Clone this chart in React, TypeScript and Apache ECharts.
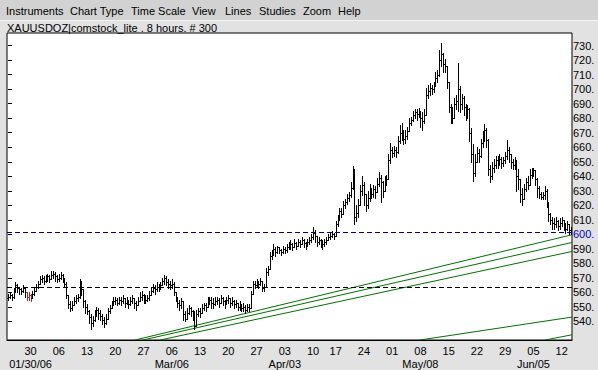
import React, { useEffect, useRef } from 'react';
import * as echarts from 'echarts';

// ---- Data (8-hour bars, XAUUSDOZ) ----
const opens = [
  556, 557, 558, 557, 560, 565, 563, 562, 561, 563,
  560, 557, 558, 556, 559, 561, 564, 566, 569, 570,
  568, 570, 571, 569, 572, 573, 571, 569, 570, 572,
  570, 566, 558, 552, 549, 551, 554, 556, 557, 566,
  562, 554, 550, 547, 543, 539, 541, 545, 548, 546,
  544, 541, 539, 542, 547, 549, 552, 554, 555, 553,
  555, 554, 556, 553, 555, 552, 554, 556, 553, 551,
  554, 557, 558, 556, 555, 556, 558, 561, 563, 562,
  564, 563, 565, 568, 570, 567, 566, 565, 566, 560,
  556, 553, 551, 554, 545, 542, 546, 549, 547, 544,
  537, 545, 547, 546, 549, 551, 550, 554, 555, 553,
  552, 554, 555, 553, 556, 554, 552, 555, 556, 553,
  554, 552, 553, 550, 551, 549, 550, 548, 550, 549,
  559, 566, 565, 567, 566, 568, 563, 564, 574, 576,
  585, 586, 590, 588, 591, 589, 588, 590, 589, 591,
  592, 593, 591, 594, 592, 595, 593, 596, 594, 592,
  595, 596, 598, 601, 599, 595, 596, 594, 593, 595,
  596, 598, 599, 600, 599, 607, 611, 616, 614, 620,
  622, 625, 627, 632, 640, 612, 615, 620, 630, 634,
  628, 620, 625, 630, 628, 631, 629, 635, 639, 636,
  630, 637, 638, 651, 658, 656, 658, 657, 664, 670,
  672, 666, 668, 671, 677, 679, 682, 684, 683, 685,
  680, 678, 682, 696, 699, 701, 700, 702, 708, 710,
  720, 724, 717, 716, 705, 688, 682, 680, 690, 692,
  700, 690, 694, 688, 684, 686, 670, 655, 642, 650,
  656, 654, 663, 668, 672, 665, 645, 640, 646, 648,
  651, 650, 652, 649, 651, 654, 658, 655, 650, 648,
  651, 640, 638, 628, 624, 631, 636, 634, 641, 643,
  644, 638, 632, 628, 626, 627, 630, 622, 614, 610,
  608, 607, 609, 606, 608, 610, 606, 604, 607, 603,
];
const highs = [
  559, 560, 559, 563, 567, 566, 564, 563, 565, 562,
  560, 560, 559, 561, 564, 566, 568, 571, 572, 571,
  572, 573, 572, 575, 575, 574, 572, 573, 574, 573,
  570, 567, 558, 554, 554, 557, 558, 559, 569, 568,
  562, 555, 552, 548, 545, 544, 548, 550, 549, 548,
  545, 543, 545, 549, 551, 554, 557, 557, 556, 557,
  557, 558, 556, 557, 555, 557, 558, 556, 554, 557,
  560, 561, 559, 558, 558, 561, 564, 566, 565, 567,
  566, 567, 570, 572, 571, 569, 568, 569, 567, 560,
  557, 555, 556, 549, 547, 549, 551, 550, 548, 547,
  548, 549, 549, 552, 553, 553, 557, 557, 557, 556,
  557, 557, 556, 558, 557, 555, 557, 558, 556, 557,
  555, 555, 553, 554, 552, 553, 551, 552, 552, 561,
  568, 568, 569, 568, 570, 567, 566, 577, 578, 588,
  589, 593, 591, 592, 591, 590, 592, 591, 593, 595,
  596, 594, 597, 595, 597, 596, 598, 597, 595, 597,
  598, 600, 605, 603, 598, 598, 597, 596, 597, 598,
  600, 601, 602, 601, 609, 613, 618, 618, 623, 624,
  628, 629, 636, 647, 645, 620, 624, 634, 640, 636,
  628, 630, 635, 632, 634, 633, 639, 643, 641, 637,
  640, 641, 655, 663, 660, 661, 660, 668, 675, 677,
  671, 672, 674, 680, 681, 685, 686, 686, 687, 685,
  684, 686, 701, 703, 704, 703, 705, 712, 713, 727,
  732, 725, 721, 715, 700, 690, 688, 694, 696, 718,
  702, 697, 695, 690, 689, 687, 673, 662, 655, 660,
  659, 666, 671, 676, 673, 666, 648, 650, 652, 654,
  654, 655, 653, 653, 657, 665, 660, 654, 652, 653,
  647, 645, 636, 632, 635, 639, 640, 645, 646, 646,
  642, 639, 633, 629, 629, 633, 631, 619, 615, 612,
  611, 612, 610, 611, 612, 610, 608, 609, 607, 605,
];
const lows = [
  555, 556, 555, 556, 560, 560, 559, 559, 560, 557,
  555, 555, 554, 556, 558, 561, 563, 566, 567, 566,
  567, 568, 567, 569, 570, 568, 567, 568, 569, 567,
  564, 556, 549, 547, 548, 551, 553, 554, 556, 558,
  550, 546, 545, 539, 535, 537, 540, 544, 542, 541,
  538, 536, 538, 543, 546, 549, 551, 552, 551, 552,
  551, 553, 550, 552, 549, 551, 553, 549, 548, 551,
  554, 555, 553, 553, 554, 555, 558, 560, 559, 561,
  561, 562, 565, 566, 565, 563, 562, 563, 558, 554,
  550, 548, 549, 541, 540, 542, 545, 544, 541, 535,
  540, 544, 543, 546, 548, 547, 550, 552, 549, 549,
  551, 552, 550, 553, 551, 549, 552, 553, 550, 551,
  549, 550, 548, 548, 547, 547, 546, 547, 547, 549,
  559, 563, 564, 563, 565, 561, 561, 564, 572, 576,
  583, 586, 585, 587, 587, 586, 587, 587, 588, 590,
  590, 589, 591, 590, 592, 591, 593, 591, 590, 592,
  593, 595, 597, 595, 592, 593, 591, 590, 592, 593,
  596, 597, 598, 597, 599, 606, 610, 612, 614, 618,
  621, 623, 626, 631, 607, 609, 612, 622, 627, 620,
  616, 618, 623, 625, 626, 625, 630, 633, 622, 626,
  630, 634, 638, 649, 653, 654, 653, 656, 663, 665,
  662, 663, 666, 672, 675, 678, 680, 679, 681, 674,
  672, 677, 682, 694, 696, 697, 698, 703, 705, 709,
  716, 712, 712, 701, 684, 677, 677, 680, 686, 685,
  684, 686, 682, 679, 680, 664, 650, 637, 640, 651,
  650, 653, 660, 664, 660, 641, 636, 638, 643, 646,
  646, 648, 646, 647, 649, 652, 650, 646, 645, 645,
  630, 631, 622, 620, 624, 630, 631, 634, 639, 640,
  634, 626, 625, 624, 624, 624, 619, 609, 607, 604,
  604, 605, 603, 604, 606, 603, 601, 603, 600, 600,
];
const closes = [
  557, 558, 557, 560, 565, 563, 562, 561, 563, 560,
  557, 558, 556, 559, 561, 564, 566, 569, 570, 568,
  570, 571, 569, 572, 573, 571, 569, 570, 572, 570,
  566, 558, 552, 549, 551, 554, 556, 557, 566, 562,
  554, 550, 547, 543, 539, 541, 545, 548, 546, 544,
  541, 539, 542, 547, 549, 552, 554, 555, 553, 555,
  554, 556, 553, 555, 552, 554, 556, 553, 551, 554,
  557, 558, 556, 555, 556, 558, 561, 563, 562, 564,
  563, 565, 568, 570, 567, 566, 565, 566, 560, 556,
  553, 551, 554, 545, 542, 546, 549, 547, 544, 537,
  545, 547, 546, 549, 551, 550, 554, 555, 553, 552,
  554, 555, 553, 556, 554, 552, 555, 556, 553, 554,
  552, 553, 550, 551, 549, 550, 548, 550, 549, 559,
  566, 565, 567, 566, 568, 563, 564, 574, 576, 585,
  586, 590, 588, 591, 589, 588, 590, 589, 591, 592,
  593, 591, 594, 592, 595, 593, 596, 594, 592, 595,
  596, 598, 601, 599, 595, 596, 594, 593, 595, 596,
  598, 599, 600, 599, 607, 611, 616, 614, 620, 622,
  625, 627, 632, 640, 612, 615, 620, 630, 634, 628,
  620, 625, 630, 628, 631, 629, 635, 639, 636, 630,
  637, 638, 651, 658, 656, 658, 657, 664, 670, 672,
  666, 668, 671, 677, 679, 682, 684, 683, 685, 680,
  678, 682, 696, 699, 701, 700, 702, 708, 710, 720,
  724, 717, 716, 705, 688, 682, 680, 690, 692, 700,
  690, 694, 688, 684, 686, 670, 655, 642, 650, 656,
  654, 663, 668, 672, 665, 645, 640, 646, 648, 651,
  650, 652, 649, 651, 654, 658, 655, 650, 648, 651,
  640, 638, 628, 624, 631, 636, 634, 641, 643, 644,
  638, 632, 628, 626, 627, 630, 622, 614, 610, 608,
  607, 609, 606, 608, 610, 606, 604, 607, 603, 601.5,
];
const redBars = [10, 11, 12];

// week-start bars and their day labels
const weekStartBars = [12, 27, 42, 57, 72, 87, 102, 117, 132, 147, 162, 174, 189, 204, 219, 234, 249, 264, 279, 294];
const weekLabels = ['30', '06', '13', '20', '27', '06', '13', '20', '27', '03', '10', '17', '24', '01', '08', '15', '22', '29', '05', '12'];
const monthBars = [12, 87, 147, 219, 279];
const monthLabels = ['01/30/06', 'Mar/06', 'Apr/03', 'May/08', 'Jun/05'];

const priceTicks = [540, 550, 560, 570, 580, 590, 600, 610, 620, 630, 640, 650, 660, 670, 680, 690, 700, 710, 720, 730];
const priceMin = 527.2;
const priceMax = 738.7;
const lastPrice = 601.6;
const supportLevel = 563.3;

// trend lines: [barIndex, price] endpoints
const trendLines = [
  [[67.5, 527.2], [299.5, 599.7]],
  [[71.7, 527.2], [299.5, 594.4]],
  [[80.8, 527.2], [299.5, 588.2]],
  [[218.8, 527.2], [299.5, 543.0]],
  [[285.2, 527.2], [299.5, 530.8]],
];

const menuItems = ['Instruments', 'Chart Type', 'Time Scale', 'View', 'Lines', 'Studies', 'Zoom', 'Help'];
const title = 'XAUUSDOZ|comstock_lite . 8 hours. # 300';

const FONT = 'Liberation Sans, Arial, sans-serif';

export default function App() {
  const ref = useRef<HTMLDivElement>(null);

  useEffect(() => {
    if (!ref.current) return;
    const chart = echarts.init(ref.current, null, { renderer: 'svg' });

    const labelMap: Record<number, string> = {};
    weekStartBars.forEach((b, i) => {
      const mi = monthBars.indexOf(b);
      labelMap[b] = mi >= 0 ? `${weekLabels[i]}\n${monthLabels[mi]}` : weekLabels[i];
    });

    const ohlcData = closes.map((c, i) => [i, opens[i], highs[i], lows[i], c]);

    const menuX = [6, 70, 131, 192, 225, 259, 303, 338];

    const option: any = {
      animation: false,
      backgroundColor: '#e2e2e2',
      grid: {
        left: 7, right: 26, top: 33, bottom: 28,
        show: true, backgroundColor: '#ffffff', borderColor: '#000000', borderWidth: 1,
      },
      graphic: [
        { type: 'rect', shape: { x: 0, y: 0, width: 598, height: 20 }, style: { fill: '#d2d2d2' }, z: -1 },
        { type: 'line', shape: { x1: 0, y1: 20.5, x2: 598, y2: 20.5 }, style: { stroke: '#f2f2f2', lineWidth: 1 }, z: -1 },
        ...menuItems.map((m, i) => ({
          type: 'text', x: menuX[i], y: 11,
          style: { text: m, fill: '#000', font: `11px ${FONT}`, textVerticalAlign: 'middle' },
        })),
        {
          type: 'text', x: 7, y: 28,
          style: { text: title, fill: '#000', font: `11px ${FONT}`, textVerticalAlign: 'middle' },
        },
      ],
      xAxis: {
        type: 'value', min: -0.5, max: 299.5,
        axisLine: { show: true, lineStyle: { color: '#000' } },
        axisTick: { show: false },
        splitLine: { show: false },
        axisLabel: {
          customValues: weekStartBars,
          formatter: (v: number) => labelMap[v] ?? '',
          color: '#000', fontSize: 11, fontFamily: FONT, margin: 4, lineHeight: 13,
        },
      },
      yAxis: {
        type: 'value', position: 'right', min: priceMin, max: priceMax,
        axisLine: { show: false },
        splitLine: { show: false },
        axisTick: { show: true, customValues: priceTicks, length: 4, lineStyle: { color: '#000' } },
        axisLabel: {
          customValues: priceTicks,
          formatter: (v: number) => `${v}.`,
          color: (v: any) => (Number(v) === 600 ? '#0000c8' : '#000'),
          fontSize: 11, fontFamily: FONT, margin: 1,
        },
      },
      series: [
        ...trendLines.map((pts) => ({
          type: 'line', data: pts, symbol: 'none', clip: true, silent: true,
          lineStyle: { color: '#007000', width: 1 }, z: 2,
        })),
        {
          type: 'custom',
          data: ohlcData,
          encode: { x: 0, y: [1, 2, 3, 4] },
          clip: true,
          z: 3,
          renderItem: (params: any, api: any) => {
            const i = api.value(0);
            const o = api.value(1), h = api.value(2), l = api.value(3), c = api.value(4);
            const top = Math.max(h, o, c), bot = Math.min(l, o, c);
            const pT = api.coord([i, top]);
            const pB = api.coord([i, bot]);
            const pO = api.coord([i, o]);
            const pC = api.coord([i, c]);
            const x = Math.round(pT[0]) + 0.5;
            const yo = Math.round(pO[1]) + 0.5;
            const yc = Math.round(pC[1]) + 0.5;
            const color = redBars.indexOf(i) >= 0 ? '#a82828' : '#000';
            return {
              type: 'group',
              children: [
                { type: 'line', shape: { x1: x, y1: Math.round(pT[1]), x2: x, y2: Math.round(pB[1]) + 1 }, style: { stroke: color, lineWidth: 1 } },
                { type: 'line', shape: { x1: x - 1.5, y1: yo, x2: x, y2: yo }, style: { stroke: color, lineWidth: 1 } },
                { type: 'line', shape: { x1: x, y1: yc, x2: x + 1.5, y2: yc }, style: { stroke: color, lineWidth: 1 } },
              ],
            };
          },
          markLine: {
            silent: true, symbol: ['none', 'none'], label: { show: false },
            data: [
              { yAxis: lastPrice, lineStyle: { color: '#000080', type: [5, 3], width: 1 } },
              { yAxis: supportLevel, lineStyle: { color: '#000000', type: [5, 3], width: 1 } },
            ],
          },
        },
      ],
    };

    chart.setOption(option);
    return () => chart.dispose();
  }, []);

  return (
    <div style={{ position: 'fixed', left: 0, top: 0, width: 598, height: 370 }}>
      <div ref={ref} style={{ width: 598, height: 370 }} />
    </div>
  );
}
